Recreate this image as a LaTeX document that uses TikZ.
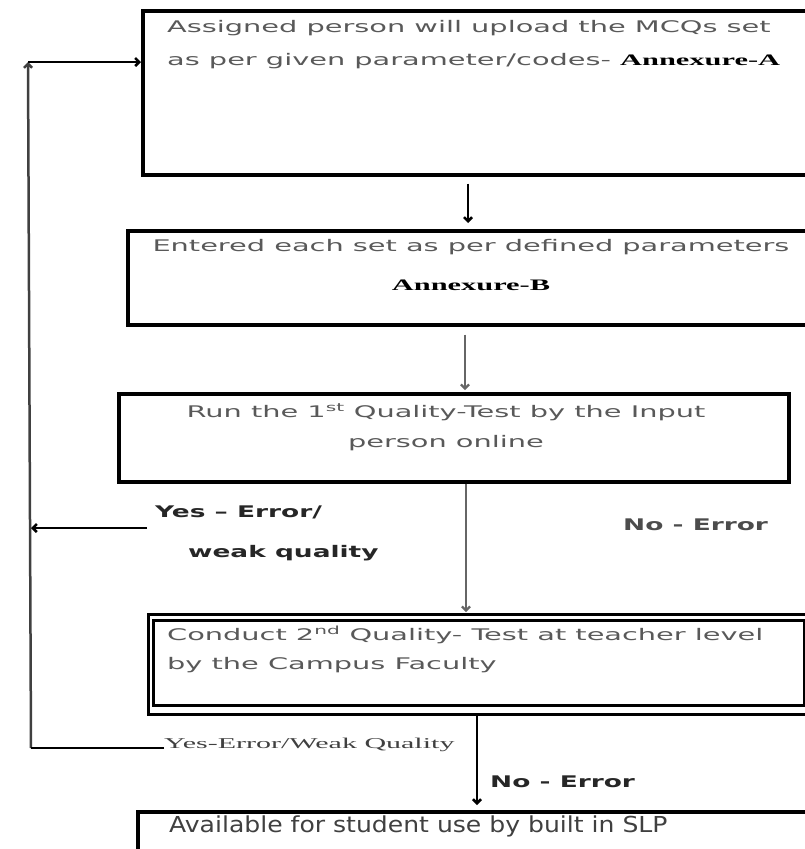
\documentclass[tikz,border=0pt]{standalone}
\usepackage{fontspec}
\usetikzlibrary{arrows.meta,positioning}
\newfontfamily\boxfont{DejaVu Sans}[FakeStretch=1.8]
\newfontfamily\slpfont{DejaVu Sans}[FakeStretch=1.14]
\newfontfamily\labelfont{DejaVu Sans}[FakeStretch=1.65]
\newfontfamily\annexfont{Liberation Serif}[FakeStretch=1.9]
\newfontfamily\notefont{Liberation Serif}[FakeStretch=2.0]
\tikzset{
Boite/.style={
 draw=black,
 line width=3.5pt,
 rectangle,
 inner sep=0pt,
 anchor=north west
 },
Texte/.style={
 inner sep=0pt,
 text=black!65,
 font=\boxfont\fontsize{16}{33}\selectfont
 },
Lien/.style={
 draw=black,
 line width=2.5pt
 },
Fleche/.style={
 Lien,
 -{Straight Barb[length=4pt,width=8pt]}
 },
GrisFleche/.style={
 Fleche,
 draw=black!60,
 line width=2.2pt
 },
Etiquette/.style={
 inner sep=0pt,
 anchor=west,
 text=black!85,
 font=\labelfont\bfseries\fontsize{16}{20}\selectfont
 }
}

\begin{document}
\begin{tikzpicture}[x=1pt,y=-1pt]
\useasboundingbox (0,0) rectangle (805,849);
\clip (0,0) rectangle (805,849);
\node[Boite, minimum width=694pt, minimum height=164pt] (assign) at (141,9) {};
\node[Boite, minimum width=709pt, minimum height=94pt] (entered) at (126,229) {};
\node[Boite, minimum width=670pt, minimum height=88pt] (run) at (117,392) {};
\node[Boite, line width=2.8pt, minimum width=688pt, minimum height=100pt] (conductframe) at (147,613) {};
\node[Boite, line width=2.8pt, minimum width=651pt, minimum height=85pt] (conduct) at (152,619) {};
\node[Boite, minimum width=699pt, minimum height=70pt] (slp) at (136,810) {};
\node[Texte, anchor=north west, align=left] (assigntxt) at (167,20)
 {Assigned person will upload the MCQs set\\as per given parameter/codes- {\annexfont\bfseries\color{black}Annexure-A}};
\node[Texte, anchor=north, align=center] (enteredtxt) at (471,239)
 {Entered each set as per defined parameters\\[6pt]{\annexfont\bfseries\color{black}Annexure-B}};
\node[Texte, anchor=north, align=center, font=\boxfont\fontsize{16}{30}\selectfont] (runtxt) at (446,403)
 {Run the 1\textsuperscript{st} Quality-Test by the Input\\person online};
\node[Texte, anchor=north west, align=left, font=\boxfont\fontsize{16}{29}\selectfont] (conducttxt) at (167,626)
 {Conduct 2\textsuperscript{nd} Quality- Test at teacher level\\by the Campus Faculty};
\node[Texte, anchor=west, text=black!75, font=\slpfont\fontsize{22}{26}\selectfont] (slptxt) at (169,826)
 {Available for student use by built in SLP};
\node[Etiquette] (yes1) at (155,512) {Yes – Error/};
\node[Etiquette] (weak1) at (188,553) {weak quality};
\node[Etiquette, text=black!70] (noerr1) at (623,525) {No - Error};
\node[Etiquette] (noerr2) at (490,782) {No - Error};
\node[inner sep=0pt, anchor=base west, text=black!75, font=\notefont\fontsize{15}{18}\selectfont] (yes2) at (164,748) {Yes-Error/Weak Quality};
\coordinate (c1) at (468,0);
\coordinate (c2) at (465,0);
\coordinate (c3) at (466,0);
\coordinate (c4) at (477,0);
\coordinate (coin) at (28,62);
\coordinate (bas) at (31,748);
\coordinate (depart) at (147,528);
\draw[Fleche, shorten <=7pt, shorten >=6pt] (assign.south -| c1) -- (entered.north -| c1);
\draw[GrisFleche, shorten <=8pt, shorten >=2pt] (entered.south -| c2) -- (run.north -| c2);
\draw[GrisFleche, shorten >=1pt] (run.south -| c3) -- (conductframe.north -| c3);
\draw[Fleche, shorten >=5pt] (conductframe.south -| c4) -- (slp.north -| c4);
\draw[Fleche, draw=black!75] (bas) -- (coin);
\draw[Fleche] (coin) -- (assign.west |- coin);
\draw[Fleche] (depart) -- (depart -| bas);
\draw[Lien] (yes2.base west) -- (yes2.base west -| bas);
\end{tikzpicture}
\end{document}
